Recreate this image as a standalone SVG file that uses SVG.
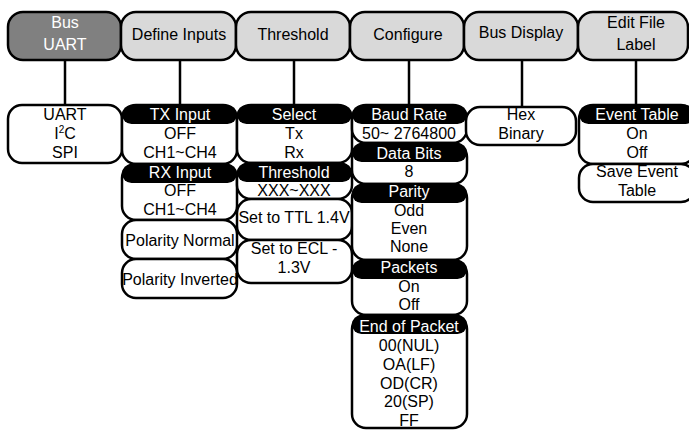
<svg xmlns="http://www.w3.org/2000/svg" width="689" height="430" viewBox="0 0 689 430">
<style>
.top{fill:#d9d9d9;stroke:#000;stroke-width:2.5}
.dark{fill:#808080;stroke:#000;stroke-width:2.5}
.sub{fill:#fff;stroke:#000;stroke-width:2.5}
.hdr{fill:#000}
text{font-family:"Liberation Sans",Arial,sans-serif;font-size:16px;text-anchor:middle;fill:#000}
.w{fill:#fff}
.con{stroke:#000;stroke-width:2.5;fill:none}
</style>
<rect width="689" height="430" fill="#fff"/>
<g id="connectors">
<line class="con" x1="65" y1="60" x2="65" y2="106"/>
<line class="con" x1="180" y1="60" x2="180" y2="106"/>
<line class="con" x1="294" y1="60" x2="294" y2="106"/>
<line class="con" x1="409" y1="60" x2="409" y2="106"/>
<line class="con" x1="522" y1="60" x2="522" y2="108"/>
<line class="con" x1="636" y1="60" x2="636" y2="106"/>
</g>
<g id="bus">
<rect class="dark" x="8" y="12" width="113" height="48" rx="15"/>
<text class="w" x="65" y="28">Bus</text>
<text class="w" x="65" y="50">UART</text>
</g>
<g id="define-inputs">
<rect class="top" x="121" y="12" width="115" height="48" rx="15"/>
<text x="179" y="40">Define Inputs</text>
</g>
<g id="threshold">
<rect class="top" x="236" y="12" width="114" height="48" rx="15"/>
<text x="293" y="40">Threshold</text>
</g>
<g id="configure">
<rect class="top" x="350" y="12" width="114" height="48" rx="15"/>
<text x="408" y="40">Configure</text>
</g>
<g id="bus-display">
<rect class="top" x="464" y="12" width="114" height="48" rx="15"/>
<text x="521" y="38">Bus Display</text>
</g>
<g id="edit-file-label">
<rect class="top" x="578" y="12" width="110" height="48" rx="15"/>
<text x="636" y="28">Edit File</text>
<text x="636" y="50">Label</text>
</g>
<g id="bus-types">
<rect class="sub" x="8" y="105" width="114" height="58" rx="14"/>
<text x="65" y="120">UART</text>
<text x="65" y="139">I<tspan font-size="10" dy="-6">2</tspan><tspan dy="6">C</tspan></text>
<text x="65" y="158">SPI</text>
</g>
<g id="tx-input">
<rect class="sub" x="122" y="105" width="115" height="59" rx="14"/>
<rect class="hdr" x="122" y="105" width="115" height="19" rx="9.5"/>
<text class="w" x="180" y="120">TX Input</text>
<text x="180" y="139">OFF</text>
<text x="180" y="158">CH1~CH4</text>
</g>
<g id="rx-input">
<rect class="sub" x="122" y="164" width="115" height="56" rx="14"/>
<rect class="hdr" x="122" y="164" width="115" height="19" rx="9.5"/>
<text class="w" x="180" y="178">RX Input</text>
<text x="180" y="196">OFF</text>
<text x="180" y="215">CH1~CH4</text>
</g>
<g id="polarity-normal">
<rect class="sub" x="122" y="220" width="115" height="39" rx="14"/>
<text x="180" y="246">Polarity Normal</text>
</g>
<g id="polarity-inverted">
<rect class="sub" x="122" y="259" width="115" height="39" rx="14"/>
<text x="180" y="285">Polarity Inverted</text>
</g>
<g id="select">
<rect class="sub" x="237" y="105" width="115" height="58" rx="14"/>
<rect class="hdr" x="237" y="105" width="115" height="19" rx="9.5"/>
<text class="w" x="294" y="120">Select</text>
<text x="294" y="139">Tx</text>
<text x="294" y="158">Rx</text>
</g>
<g id="threshold-value">
<rect class="sub" x="237" y="163" width="115" height="36" rx="14"/>
<rect class="hdr" x="237" y="163" width="115" height="19" rx="9.5"/>
<text class="w" x="294" y="178">Threshold</text>
<text x="294" y="196">XXX~XXX</text>
</g>
<g id="set-ttl">
<rect class="sub" x="237" y="199" width="115" height="41" rx="14"/>
<text x="294" y="223">Set to TTL 1.4V</text>
</g>
<g id="set-ecl">
<rect class="sub" x="237" y="240" width="115" height="43" rx="14"/>
<text x="294" y="254">Set to ECL -</text>
<text x="294" y="273">1.3V</text>
</g>
<g id="baud-rate">
<rect class="sub" x="352" y="105" width="115" height="38" rx="14"/>
<rect class="hdr" x="352" y="105" width="115" height="19" rx="9.5"/>
<text class="w" x="409" y="120">Baud Rate</text>
<text x="409" y="139">50~ 2764800</text>
</g>
<g id="data-bits">
<rect class="sub" x="352" y="143" width="115" height="41" rx="14"/>
<rect class="hdr" x="352" y="143" width="115" height="19" rx="9.5"/>
<text class="w" x="409" y="159">Data Bits</text>
<text x="409" y="177">8</text>
</g>
<g id="parity">
<rect class="sub" x="352" y="184" width="115" height="76" rx="14"/>
<rect class="hdr" x="352" y="184" width="115" height="19" rx="9.5"/>
<text class="w" x="409" y="197">Parity</text>
<text x="409" y="216">Odd</text>
<text x="409" y="234">Even</text>
<text x="409" y="252">None</text>
</g>
<g id="packets">
<rect class="sub" x="352" y="260" width="115" height="55" rx="14"/>
<rect class="hdr" x="352" y="260" width="115" height="19" rx="9.5"/>
<text class="w" x="409" y="273">Packets</text>
<text x="409" y="292">On</text>
<text x="409" y="310">Off</text>
</g>
<g id="end-of-packet">
<rect class="sub" x="352" y="315" width="115" height="113" rx="14"/>
<rect class="hdr" x="352" y="315" width="115" height="19" rx="9.5"/>
<text class="w" x="409" y="332">End of Packet</text>
<text x="409" y="351">00(NUL)</text>
<text x="409" y="370">OA(LF)</text>
<text x="409" y="389">OD(CR)</text>
<text x="409" y="407">20(SP)</text>
<text x="409" y="426">FF</text>
</g>
<g id="hex-binary">
<rect class="sub" x="466" y="107" width="110" height="38" rx="14"/>
<text x="521" y="120">Hex</text>
<text x="521" y="139">Binary</text>
</g>
<g id="event-table">
<rect class="sub" x="579" y="105" width="116" height="59" rx="14"/>
<rect class="hdr" x="579" y="105" width="116" height="19" rx="9.5"/>
<text class="w" x="637" y="120">Event Table</text>
<text x="637" y="139">On</text>
<text x="637" y="158">Off</text>
</g>
<g id="save-event-table">
<rect class="sub" x="579" y="164" width="116" height="38" rx="14"/>
<text x="637" y="177">Save Event</text>
<text x="637" y="196">Table</text>
</g>
</svg>
